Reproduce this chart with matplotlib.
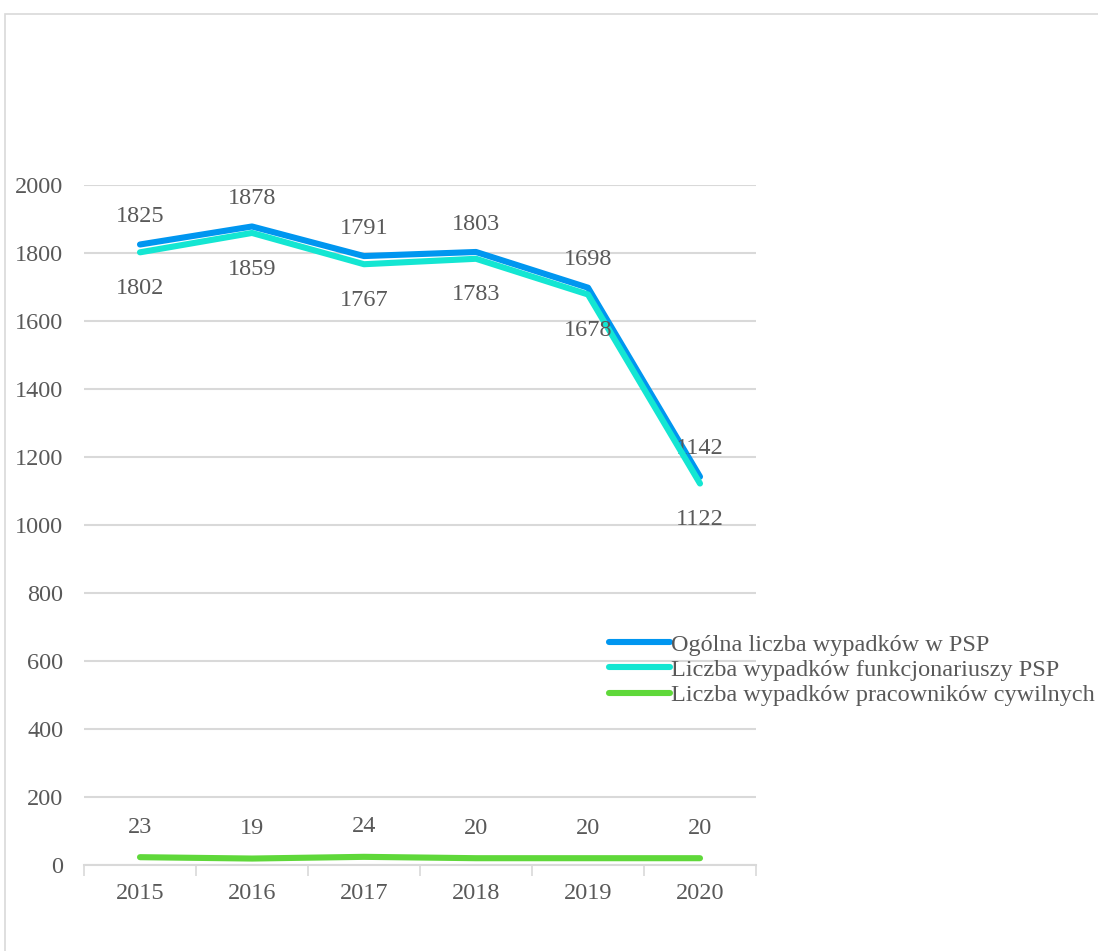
#!/usr/bin/env python3
"""Wypadki w PSP 2015-2020 - line chart"""

import matplotlib
matplotlib.use("Agg")
import matplotlib.pyplot as plt
from matplotlib.patches import Rectangle
import numpy

years = ["2015", "2016", "2017", "2018", "2019", "2020"]
total = [1825, 1878, 1791, 1803, 1698, 1142]
officers = [1802, 1859, 1767, 1783, 1678, 1122]
civilians = [23, 19, 24, 20, 20, 20]
series_names = [
    "Ogólna liczba wypadków w PSP",
    "Liczba wypadków funkcjonariuszy PSP",
    "Liczba wypadków pracowników cywilnych",
]

TEXT = "#595959"
GRID = "#d9d9d9"
W, H = 1098, 951

plt.rcParams["font.family"] = ["Liberation Serif", "DejaVu Serif"]
plt.rcParams["font.size"] = 17.5

fig = plt.figure(figsize=(W / 100, H / 100), dpi=100)
fig.patches.append(Rectangle((5 / W, -0.2), 1.5, 1.2 - 14 / H, transform=fig.transFigure,
                             fill=False, edgecolor=GRID, linewidth=1.2))
ax = fig.add_axes([84 / W, 1 - 865 / H, 672 / W, 680 / H])

x = numpy.arange(len(years))
styles = [
    (total, "#0096f0", 20),
    (officers, "#14e6d2", -26),
    (civilians, "#5fd83a", 21.5),
]
for (vals, color, off), name in zip(styles, series_names):
    ax.plot(x, vals, color=color, linewidth=4.4, solid_capstyle="round",
            solid_joinstyle="round", label=name, zorder=3)
    for xi, v in zip(x, vals):
        ax.annotate(str(v), (xi, v), xytext=(0, off), textcoords="offset points",
                    ha="center", va="center", color=TEXT)

ax.set_xlim(-0.5, len(years) - 0.5)
ax.set_ylim(0, 2000)
ax.set_yticks(range(0, 2001, 200))
ax.set_xticks(x)
ax.set_xticklabels(years)
ax.set_xticks(numpy.arange(-0.5, len(years)), minor=True)
ax.tick_params(axis="x", which="major", length=0, pad=13, colors=TEXT)
ax.tick_params(axis="x", which="minor", length=8, width=1.2, color=GRID)
ax.tick_params(axis="y", length=0, pad=15, colors=TEXT)
ax.grid(axis="y", color=GRID, linewidth=1.5)
ax.set_axisbelow(True)
for side in ("top", "right", "left"):
    ax.spines[side].set_visible(False)
ax.spines["bottom"].set_color(GRID)
ax.spines["bottom"].set_linewidth(1.5)

leg = fig.legend(loc="center left", bbox_to_anchor=(609 / W, 1 - 670 / H),
                 frameon=False, handlelength=2.5, handletextpad=0.05,
                 labelspacing=0.14, borderpad=0, borderaxespad=0)
for t in leg.get_texts():
    t.set_color(TEXT)

fig.savefig("out.png", dpi=100)
